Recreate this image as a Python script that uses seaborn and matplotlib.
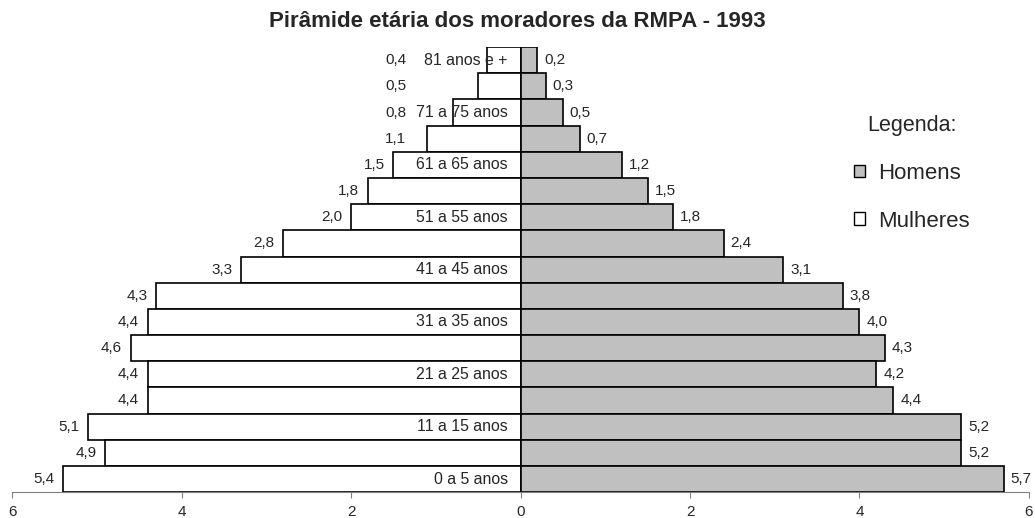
import numpy as np
import pandas as pd
import matplotlib
matplotlib.use("Agg")
import matplotlib.pyplot as plt
from matplotlib.patches import Patch
import seaborn as sns

# dados (de baixo para cima)
faixas = ["0 a 5 anos", "6 a 10 anos", "11 a 15 anos", "16 a 20 anos",
          "21 a 25 anos", "26 a 30 anos", "31 a 35 anos", "36 a 40 anos",
          "41 a 45 anos", "46 a 50 anos", "51 a 55 anos", "56 a 60 anos",
          "61 a 65 anos", "66 a 70 anos", "71 a 75 anos", "76 a 80 anos",
          "81 anos e +"]
homens = [5.7, 5.2, 5.2, 4.4, 4.2, 4.3, 4.0, 3.8, 3.1, 2.4, 1.8, 1.5,
          1.2, 0.7, 0.5, 0.3, 0.2]
mulheres = [5.4, 4.9, 5.1, 4.4, 4.4, 4.6, 4.4, 4.3, 3.3, 2.8, 2.0, 1.8,
            1.5, 1.1, 0.8, 0.5, 0.4]
ticks = [-6, -4, -2, 0, 2, 4, 6]

sns.set_style("white")
plt.rcParams['font.family'] = ['Liberation Sans', 'DejaVu Sans']

df = pd.DataFrame({"faixa": faixas, "homens": homens,
                   "mulheres": [-v for v in mulheres]})
ordem = faixas[::-1]  # 81+ no topo

fig = plt.figure(figsize=(10.35, 5.18), dpi=100)
ax = fig.add_axes([0.0116, 0.050, 0.9826, 0.859])

sns.barplot(data=df, x="mulheres", y="faixa", order=ordem, color="white",
            edgecolor="black", linewidth=1.2, width=1.0, saturation=1, ax=ax)
sns.barplot(data=df, x="homens", y="faixa", order=ordem, color="#c0c0c0",
            edgecolor="black", linewidth=1.2, width=1.0, saturation=1, ax=ax)

# rotulos de valores
for i, f in enumerate(ordem):
    k = faixas.index(f)
    ax.text(-max(mulheres[k] + 0.1, 1.35), i, f"{mulheres[k]:.1f}".replace(".", ","),
            ha="right", va="center", fontsize=11)
    ax.text(homens[k] + 0.08, i, f"{homens[k]:.1f}".replace(".", ","),
            ha="left", va="center", fontsize=11)
    if k % 2 == 0:
        ax.text(-0.15, i, f, ha="right", va="center", fontsize=11.4, zorder=5)

ax.set_xlim(-6, 6)
ax.set_ylim(16.5, -0.5)
ax.set_xticks(ticks)
ax.set_xticklabels([str(abs(t)) for t in ticks], fontsize=11)
ax.set_yticks([])
ax.set_xlabel("")
ax.set_ylabel("")
for s in ["top", "left", "right"]:
    ax.spines[s].set_visible(False)
ax.spines["bottom"].set_color("#808080")
ax.tick_params(axis="x", direction="out", length=4, color="#808080", pad=5, bottom=True)

fig.text(0.5, 0.958, "Pirâmide etária dos moradores da RMPA - 1993", fontsize=16,
         fontweight="bold", ha="center", va="center")

handles = [Patch(facecolor="#c0c0c0", edgecolor="black", label="Homens"),
           Patch(facecolor="white", edgecolor="black", label="Mulheres")]
leg = fig.legend(handles=handles, loc="center", bbox_to_anchor=(0.881, 0.665),
                 frameon=False, fontsize=16, handlelength=0.5, handleheight=0.5,
                 handletextpad=0.55, labelspacing=1.2, title="Legenda:",
                 title_fontsize=15.5)

fig.savefig("out.png", dpi=100)
